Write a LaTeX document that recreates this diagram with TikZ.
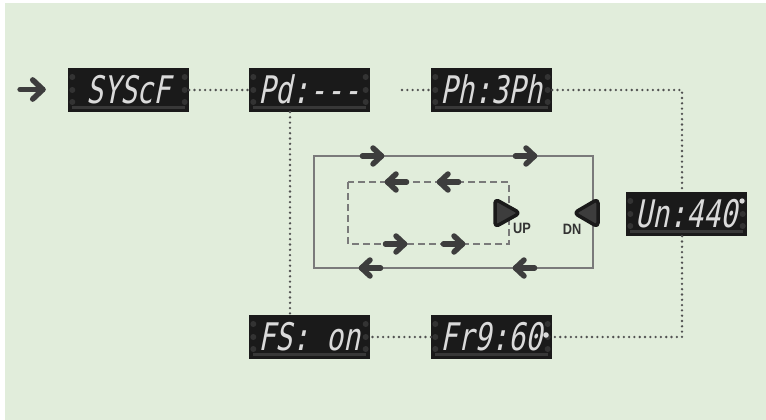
\documentclass[tikz,border=0pt]{standalone}
\usepackage{fontspec}
\usetikzlibrary{calc}
\newfontfamily\segfont[FakeSlant=0.2,FakeStretch=0.74]{DejaVu Sans Mono}
\newfontfamily\labfont[FakeStretch=0.85]{Liberation Sans}
\definecolor{bgc}{HTML}{E1EDDB}
\definecolor{dispbg}{HTML}{1A1A1A}
\definecolor{segtxt}{HTML}{DADADA}
\definecolor{dotc}{HTML}{333333}
\definecolor{barc}{HTML}{383838}
\definecolor{arrc}{HTML}{3D3D3D}
\definecolor{linec}{HTML}{505050}
\definecolor{rectc}{HTML}{7A7A7A}
\newcommand\dispdeco[1]{%
  \foreach \dy in {-13,0,12} {%
    \fill[dotc] ($(#1.west)+(4.5,\dy)$) circle (3);
    \fill[dotc] ($(#1.east)+(-4.5,\dy)$) circle (3);
  }
  \fill[barc] ($(#1.south west)+(4,-6)$) rectangle ($(#1.south east)+(-4,-3.5)$);
}
\begin{document}
\begin{tikzpicture}[x=1pt,y=-1pt,
  disp/.style={fill=dispbg, minimum width=121pt, minimum height=44pt, inner sep=0pt,
    text=segtxt, font=\segfont\fontsize{38}{38}\selectfont},
  dotline/.style={draw=linec, line width=2.6pt, line cap=round, dash pattern=on 0pt off 5.3pt},
  arr/.style={draw=arrc, line width=5.5pt, line cap=round, line join=round},
  pics/rarr/.style={code={\draw[arr] (-9.5,0) -- (9.5,0); \draw[arr] (1,-8) -- (9.5,0) -- (1,8);}},
  pics/larr/.style={code={\draw[arr] (9.5,0) -- (-9.5,0); \draw[arr] (-1,-8) -- (-9.5,0) -- (-1,8);}},
  tri/.style={fill=arrc, draw=dispbg, line width=3.5pt, rounded corners=4pt, line join=round},
  lab/.style={font=\labfont\bfseries\fontsize{15}{15}\selectfont, text=dotc, inner sep=0pt}
]
\useasboundingbox (0,0) rectangle (766,420);
\fill[bgc] (5,3) rectangle (766,420);

% displays
\node[disp] (s)  at (128.5,90)  {\raisebox{2pt}{SYScF}};
\node[disp] (pd) at (309.5,90)  {\raisebox{2pt}{Pd:---}};
\node[disp] (ph) at (491.5,90)  {\raisebox{2pt}{Ph:3Ph}};
\node[disp] (un) at (686.5,214) {\raisebox{2pt}{Un:440}};
\node[disp] (fs) at (309.5,337) {\raisebox{2pt}{FS: on}};
\node[disp] (fr) at (491.5,337) {\raisebox{2pt}{Fr9:60}};
\foreach \n in {s,pd,ph,un,fs,fr} {\dispdeco{\n}}
\fill[segtxt] (742,201) circle (2.6);
\fill[segtxt] (546,335) circle (2.8);

% connectors
\coordinate (g1) at (402,90);
\coordinate (c1) at (682,90);
\coordinate (c2) at (290,112);
\draw[dotline] (s.east) -- (pd.west);
\draw[dotline] (g1) -- (ph.west);
\draw[dotline] (ph.east) -- (c1) -- (c1 |- un.north);
\draw[dotline] (c1 |- un.south) |- (fr.east);
\draw[dotline] (fr.west) -- (fs.east);
\draw[dotline] (c2) -- (c2 |- fs.north);

% entry arrow
\pic[scale=1.2] at (31.5,89.5) {rarr};

% loops
\draw[rectc, line width=2.3pt] (314,156) rectangle (593,268);
\draw[rectc, line width=2.3pt, dash pattern=on 7pt off 4pt] (348,182) rectangle (509,244);
\pic at (372,156) {rarr};
\pic at (525,156) {rarr};
\pic at (371,268) {larr};
\pic at (525,268) {larr};
\pic at (397,182) {larr};
\pic at (449,182) {larr};
\pic at (395,244) {rarr};
\pic at (453,244) {rarr};

% buttons
\draw[tri] (495,199) -- (520,213) -- (495,227) -- cycle;
\draw[tri] (598,199) -- (574,213) -- (598,227) -- cycle;
\node[lab] (up) at (522,228) {UP};
\node[lab] (dn) at (572,229) {DN};
\end{tikzpicture}
\end{document}
